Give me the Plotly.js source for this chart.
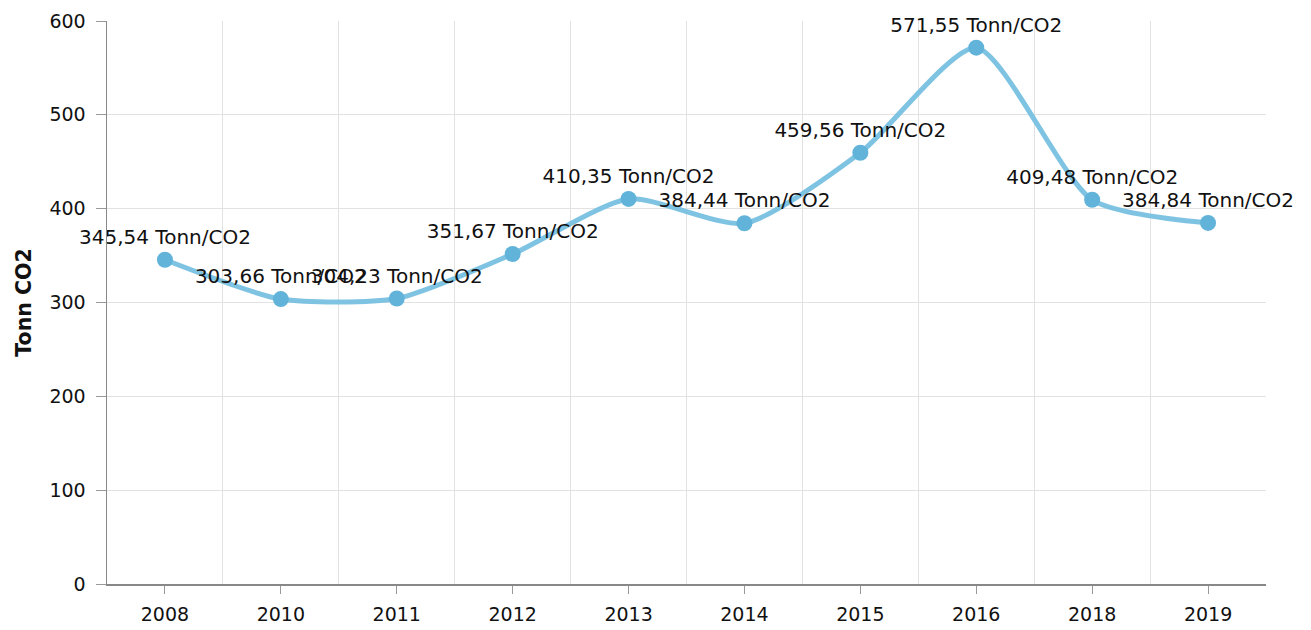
<!DOCTYPE html>
<html>
<head>
<meta charset="utf-8">
<script src="https://cdn.plot.ly/plotly-3.0.1.min.js"></script>
<style>html,body{margin:0;padding:0;background:#fff;}#chart{width:1311px;height:630px;}</style>
</head>
<body>
<div id="chart"></div>
<script>
const years = ["2008", "2010", "2011", "2012", "2013", "2014", "2015", "2016", "2018", "2019"];
const emissions = [345.54, 303.66, 304.23, 351.67, 410.35, 384.44, 459.56, 571.55, 409.48, 384.84];
const unitLabel = "Tonn/CO2";
const yTicks = [0, 100, 200, 300, 400, 500, 600];

const xIdx = years.map((_, i) => i);
const boundaries = years.map((_, i) => i + 0.5);
const labels = emissions.map(v => v.toFixed(2).replace('.', ',') + ' ' + unitLabel);

const FONT = 'Verdana, "DejaVu Sans", sans-serif';

const trace = {
  x: xIdx,
  y: emissions,
  type: 'scatter',
  mode: 'lines+markers+text',
  line: {shape: 'spline', smoothing: 0.65, color: 'rgba(120,192,226,0.95)', width: 5},
  marker: {color: '#62b3da', size: 16},
  text: labels,
  textposition: 'top center',
  textfont: {family: FONT, size: 20, color: '#111'},
  cliponaxis: false,
  hoverinfo: 'x+y'
};

const layout = {
  width: 1311,
  height: 630,
  margin: {l: 107, r: 45, t: 21, b: 46},
  paper_bgcolor: '#fff',
  plot_bgcolor: '#fff',
  showlegend: false,
  font: {family: FONT, size: 19, color: '#111'},
  xaxis: {
    type: 'linear',
    range: [-0.5, years.length - 0.5],
    tickmode: 'array',
    tickvals: xIdx,
    ticktext: years,
    ticks: 'outside',
    ticklen: 8,
    tickcolor: '#999',
    ticklabelstandoff: 5,
    showgrid: false,
    minor: {tickmode: 'array', tickvals: boundaries, showgrid: true, gridcolor: '#e2e2e2', gridwidth: 1, ticks: ''},
    showline: true,
    linecolor: '#888',
    linewidth: 1.5,
    zeroline: false,
    tickfont: {family: FONT, size: 19, color: '#111'},
    fixedrange: true
  },
  yaxis: {
    range: [0, 600],
    tickmode: 'array',
    tickvals: yTicks,
    ticks: 'outside',
    ticklen: 10,
    tickcolor: '#999',
    ticklabelstandoff: 6,
    showgrid: true,
    gridcolor: '#e2e2e2',
    showline: true,
    linecolor: '#888',
    linewidth: 1.5,
    zeroline: false,
    tickfont: {family: FONT, size: 19, color: '#111'},
    title: {text: 'Tonn CO2', font: {family: FONT, size: 20.5, color: '#111', weight: 'bold'}, standoff: 12},
    fixedrange: true
  }
};

Plotly.newPlot('chart', [trace], layout, {displayModeBar: false, staticPlot: true});
</script>
</body>
</html>
